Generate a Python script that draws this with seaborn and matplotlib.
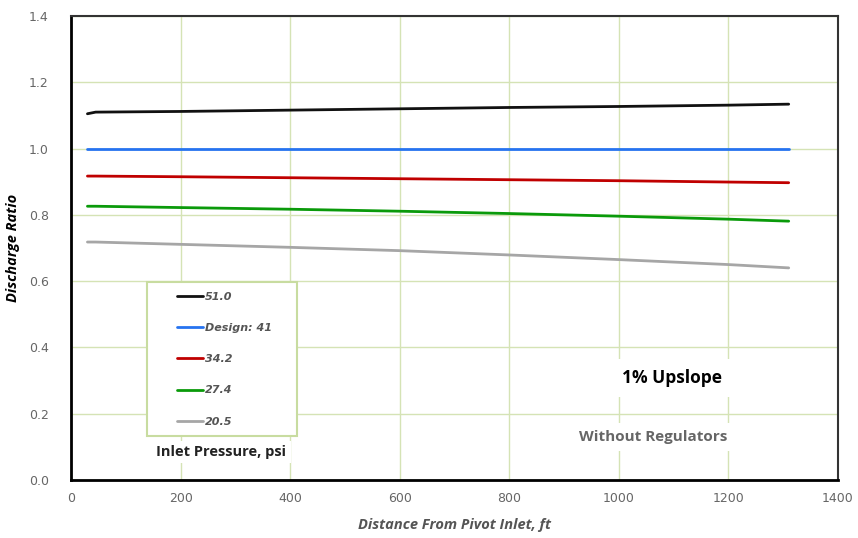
import matplotlib
matplotlib.use("Agg")
import matplotlib.pyplot as plt
import seaborn as sns
import pandas as pd
from matplotlib.ticker import MultipleLocator
from matplotlib.patches import Rectangle

# ---- data ----
distance_ft = [30, 45, 200, 400, 600, 800, 1000, 1200, 1310]
p_51_0 = [1.105, 1.110, 1.112, 1.116, 1.120, 1.124, 1.127, 1.131, 1.134]
p_design_41 = [1.000, 1.000, 1.000, 1.000, 1.000, 1.000, 1.000, 1.000, 1.000]
p_34_2 = [0.917, 0.917, 0.915, 0.912, 0.909, 0.906, 0.903, 0.899, 0.897]
p_27_4 = [0.826, 0.826, 0.822, 0.817, 0.811, 0.804, 0.796, 0.787, 0.781]
p_20_5 = [0.718, 0.718, 0.711, 0.702, 0.692, 0.679, 0.665, 0.650, 0.640]

series_labels = ["51.0", "Design: 41", "34.2", "27.4", "20.5"]
series_values = [p_51_0, p_design_41, p_34_2, p_27_4, p_20_5]
series_colors = ["#111111", "#2673f0", "#c00000", "#0a9a0a", "#a6a6a6"]

rows = []
for lab, vals in zip(series_labels, series_values):
    for x, y in zip(distance_ft, vals):
        rows.append({"Distance": x, "Ratio": y, "Pressure": lab})
df = pd.DataFrame(rows)

sns.set_style("white")
plt.rcParams["font.family"] = ["DejaVu Sans"]

fig = plt.figure(figsize=(8.58, 5.38), dpi=100)
ax = fig.add_axes([71 / 858, 1 - 480 / 538, 767 / 858, 464 / 538])

sns.lineplot(data=df, x="Distance", y="Ratio", hue="Pressure",
             hue_order=series_labels, palette=series_colors,
             linewidth=2.0, ax=ax, legend=True)

ax.set_xlim(0, 1400)
ax.set_ylim(0, 1.4)
ax.xaxis.set_major_locator(MultipleLocator(200))
ax.xaxis.set_minor_locator(MultipleLocator(40))
ax.yaxis.set_major_locator(MultipleLocator(0.2))
ax.yaxis.set_minor_locator(MultipleLocator(0.05))
ax.yaxis.set_major_formatter(matplotlib.ticker.FormatStrFormatter("%.1f"))

ax.grid(True, which="major", color="#d5e3b5", linewidth=1.0, zorder=0)
ax.set_axisbelow(True)

ax.tick_params(axis="both", which="both", direction="in", colors="black",
               labelcolor="#666666", labelsize=9)
ax.tick_params(axis="x", which="both", pad=9)
ax.tick_params(axis="y", which="both", pad=16)
ax.tick_params(axis="both", which="major", length=4, width=1.2)
ax.tick_params(axis="both", which="minor", length=4, width=1.2)

for side in ["left", "bottom"]:
    ax.spines[side].set_color("black")
    ax.spines[side].set_linewidth(2.0)
for side in ["top", "right"]:
    ax.spines[side].set_color("#333333")
    ax.spines[side].set_linewidth(1.5)

ax.set_xlabel("Distance From Pivot Inlet, ft", fontsize=10.5, fontweight="bold",
              fontstyle="italic", color="#555555", family="Open Sans", labelpad=9)
ax.set_ylabel("Discharge Ratio", fontsize=10.5, fontweight="bold",
              fontstyle="italic", color="black", family="Open Sans", labelpad=6)

# legend box
box = Rectangle((0.099, 0.095), 0.196, 0.332, transform=ax.transAxes,
                facecolor="white", edgecolor="#c8dca0", linewidth=1.5, zorder=4)
ax.add_patch(box)

handles, labels = ax.get_legend_handles_labels()
leg = ax.legend(handles, labels, loc="upper left",
                bbox_to_anchor=(0.138, 0.405),
                frameon=False, handlelength=2.35, handletextpad=0.15,
                labelspacing=1.9, borderpad=0, borderaxespad=0,
                prop={"family": "DejaVu Sans", "style": "italic", "weight": "bold", "size": 8})
for t in leg.get_texts():
    t.set_color("#555555")
for h in leg.get_lines():
    h.set_linewidth(2.0)
leg.set_zorder(5)

ax.text(0.196, 0.060, "Inlet Pressure, psi", transform=ax.transAxes,
        ha="center", va="center", fontsize=10.5, fontweight="bold", family="Open Sans",
        color="#222222", zorder=6,
        bbox=dict(facecolor="white", edgecolor="none", pad=3))

ax.text(0.784, 0.220, "1% Upslope", transform=ax.transAxes,
        ha="center", va="center", fontsize=12.5, fontweight="bold", family="Open Sans",
        color="black", zorder=6,
        bbox=dict(facecolor="white", edgecolor="none", pad=7))
ax.text(0.759, 0.092, "Without Regulators", transform=ax.transAxes,
        ha="center", va="center", fontsize=11, fontweight="bold", family="Open Sans",
        color="#666666", zorder=6,
        bbox=dict(facecolor="white", edgecolor="none", pad=5))

fig.savefig("out.png", dpi=100, facecolor="white")
